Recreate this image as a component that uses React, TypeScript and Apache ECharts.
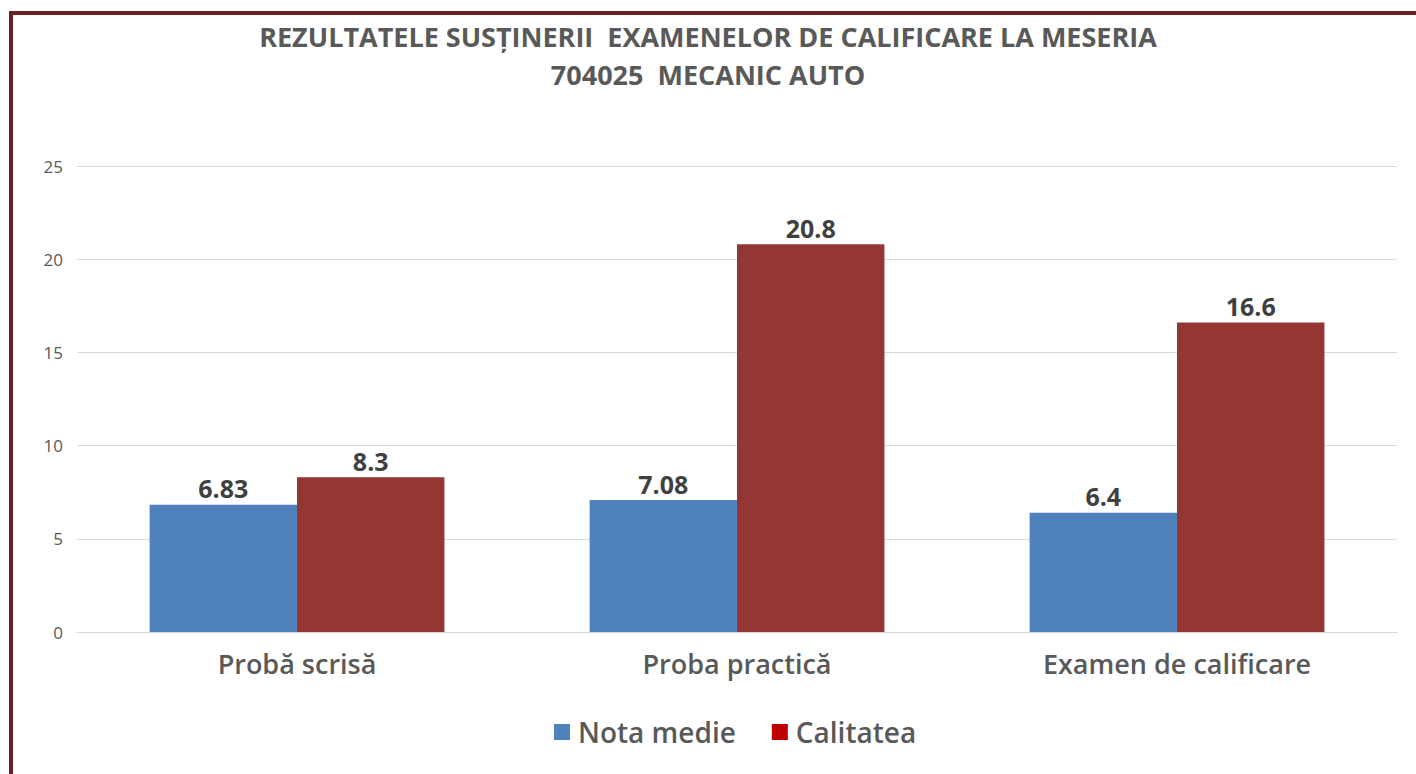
import React, { useEffect, useRef } from "react";
import * as echarts from "echarts";

const categories = ["Probă scrisă", "Proba practică", "Examen de calificare"];
const notaMedie = [6.83, 7.08, 6.4];
const calitatea = [8.3, 20.8, 16.6];
const yTicks = { min: 0, max: 25, interval: 5 };
const titleLines = ["REZULTATELE SUSȚINERII  EXAMENELOR DE CALIFICARE LA MESERIA", "704025  MECANIC AUTO"];

const FONT = "'Open Sans', 'Noto Sans', sans-serif";

export default function App() {
  const ref = useRef<HTMLDivElement>(null);
  useEffect(() => {
    document.body.style.margin = "0";
    const chart = echarts.init(ref.current!, null, { renderer: "svg" });
    const labelStyle = {
      show: true,
      position: "top",
      distance: 4,
      fontFamily: FONT,
      fontSize: 25,
      fontWeight: "bold",
      color: "#404040",
    };
    chart.setOption({
      animation: false,
      backgroundColor: "#ffffff",
      title: {
        text: titleLines.join("\n"),
        left: "center",
        top: 12,
        textStyle: {
          fontFamily: FONT,
          fontSize: 27,
          fontWeight: "bold",
          color: "#595959",
          lineHeight: 38,
        },
      },
      legend: {
        top: 713,
        left: 549,
        itemWidth: 16,
        itemHeight: 16,
        itemGap: 36,
        textStyle: { fontFamily: FONT, fontSize: 28, fontWeight: 600, color: "#595959", padding: [0, 0, 0, 3] },
        data: [
          { name: "Nota medie", icon: "rect", itemStyle: { color: "#4F81BD" } },
          { name: "Calitatea", icon: "rect", itemStyle: { color: "#C00000" } },
        ],
      },
      grid: { left: 77, right: 19, top: 166, bottom: 142 },
      xAxis: {
        type: "category",
        data: categories,
        axisLine: { lineStyle: { color: "#d9d9d9" } },
        axisTick: { show: false },
        axisLabel: { fontFamily: FONT, fontSize: 27, fontWeight: 600, color: "#595959", margin: 18 },
      },
      yAxis: {
        type: "value",
        min: yTicks.min,
        max: yTicks.max,
        interval: yTicks.interval,
        axisLine: { show: false },
        axisTick: { show: false },
        splitLine: { lineStyle: { color: "#d9d9d9", width: 1 } },
        axisLabel: { fontFamily: FONT, fontSize: 17, color: "#595959", margin: 14 },
      },
      series: [
        {
          name: "Nota medie",
          type: "bar",
          data: notaMedie,
          barGap: "0%",
          barCategoryGap: "33%",
          itemStyle: { color: "#4F81BD" },
          label: labelStyle,
        },
        {
          name: "Calitatea",
          type: "bar",
          data: calitatea,
          barGap: "0%",
          barCategoryGap: "33%",
          itemStyle: { color: "#943634" },
          label: labelStyle,
        },
      ],
      graphic: [
        { type: "rect", left: 9, top: 11, shape: { width: 1407, height: 4 }, style: { fill: "#6B2121" } },
        { type: "rect", left: 9, top: 11, shape: { width: 4, height: 763 }, style: { fill: "#6B2121" } },
      ],
    });
    return () => chart.dispose();
  }, []);
  return <div ref={ref} style={{ position: "absolute", left: 0, top: 0, width: 1416, height: 774 }} />;
}
